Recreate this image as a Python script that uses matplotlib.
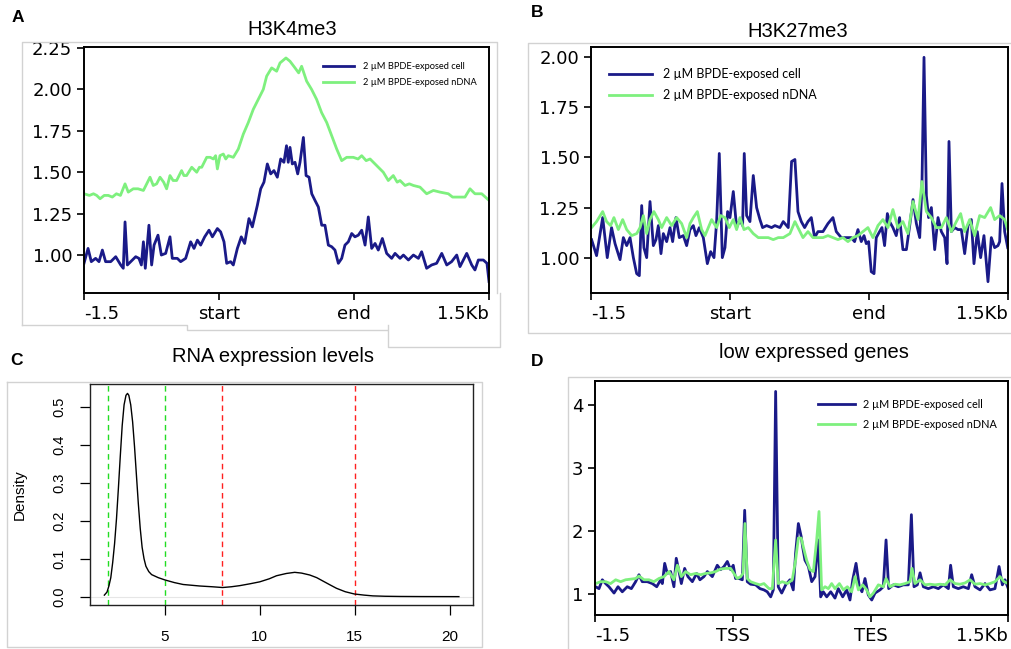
import matplotlib
matplotlib.use("Agg")
import matplotlib.pyplot as plt
from matplotlib.lines import Line2D

W, H = 1012, 649

# ---------------- data ----------------
profile_ticks = [0, 1, 2, 3]
ab_ticklabels = ["-1.5", "start", "end", "1.5Kb"]
d_ticklabels = ["-1.5", "TSS", "TES", "1.5Kb"]
series_labels = ["2 \u00b5M BPDE-exposed cell", "2 \u00b5M BPDE-exposed nDNA"]

# Panel A: H3K4me3
a_cell_x = [0.000, 0.030, 0.054, 0.086, 0.111, 0.136, 0.160, 0.198, 0.235, 0.272, 0.291, 0.304, 0.321, 0.346,
            0.383, 0.407, 0.425, 0.440, 0.454, 0.481, 0.501, 0.519, 0.548, 0.573, 0.605, 0.637, 0.654, 0.691,
            0.716, 0.753, 0.790, 0.815, 0.840, 0.864, 0.894, 0.926, 0.951, 0.988, 1.012, 1.037, 1.057, 1.086,
            1.106, 1.136, 1.165, 1.190, 1.222, 1.247, 1.284, 1.309, 1.333, 1.358, 1.383, 1.407, 1.432, 1.457,
            1.481, 1.500, 1.513, 1.526, 1.543, 1.563, 1.583, 1.600, 1.625, 1.645, 1.667, 1.687, 1.711, 1.736,
            1.761, 1.785, 1.810, 1.835, 1.859, 1.884, 1.909, 1.933, 1.958, 1.983, 2.007, 2.032, 2.057, 2.082,
            2.106, 2.131, 2.156, 2.180, 2.210, 2.242, 2.279, 2.304, 2.341, 2.366, 2.403, 2.440, 2.477, 2.501,
            2.538, 2.575, 2.612, 2.650, 2.687, 2.723, 2.761, 2.785, 2.835, 2.872, 2.896, 2.921, 2.958, 2.985,
            3.000]
a_cell_y = [0.95, 1.04, 0.96, 0.98, 0.96, 1.03, 0.96, 0.96, 0.99, 0.94, 0.92, 1.20, 0.94, 0.96,
            0.99, 0.98, 0.94, 1.08, 0.92, 1.18, 0.94, 1.06, 1.12, 1.00, 1.01, 1.11, 0.98, 0.98,
            0.96, 0.98, 1.08, 1.04, 1.09, 1.06, 1.11, 1.15, 1.11, 1.16, 1.14, 1.08, 0.95, 0.96,
            0.94, 1.04, 1.11, 1.07, 1.22, 1.17, 1.30, 1.40, 1.44, 1.55, 1.49, 1.51, 1.47, 1.58,
            1.56, 1.66, 1.56, 1.65, 1.55, 1.56, 1.49, 1.56, 1.71, 1.48, 1.47, 1.37, 1.33, 1.29,
            1.18, 1.18, 1.06, 1.05, 1.03, 0.95, 0.98, 1.06, 1.08, 1.13, 1.11, 1.12, 1.15, 1.06,
            1.23, 1.04, 1.07, 1.03, 1.10, 1.01, 0.98, 1.01, 0.98, 1.00, 0.97, 1.00, 0.98, 1.02,
            0.92, 0.94, 0.95, 1.01, 0.94, 0.96, 1.00, 0.93, 1.01, 0.94, 0.91, 0.97, 0.97, 0.95,
            0.84]
a_ndna_x = [0.000, 0.040, 0.070, 0.094, 0.119, 0.150, 0.180, 0.210, 0.240, 0.270, 0.304, 0.328, 0.365, 0.400,
            0.440, 0.489, 0.513, 0.538, 0.563, 0.590, 0.612, 0.637, 0.660, 0.686, 0.723, 0.740, 0.760, 0.798,
            0.835, 0.855, 0.872, 0.909, 0.935, 0.958, 0.975, 0.988, 1.007, 1.032, 1.050, 1.069, 1.106, 1.143,
            1.180, 1.217, 1.254, 1.291, 1.328, 1.353, 1.390, 1.427, 1.452, 1.496, 1.526, 1.563, 1.590, 1.612,
            1.649, 1.686, 1.723, 1.760, 1.798, 1.835, 1.872, 1.909, 1.946, 1.995, 2.030, 2.057, 2.090, 2.119,
            2.168, 2.217, 2.254, 2.291, 2.320, 2.341, 2.378, 2.410, 2.440, 2.489, 2.538, 2.588, 2.637, 2.699,
            2.730, 2.760, 2.822, 2.859, 2.896, 2.946, 3.000]
a_ndna_y = [1.37, 1.36, 1.37, 1.36, 1.34, 1.36, 1.36, 1.35, 1.37, 1.36, 1.43, 1.38, 1.40, 1.40,
            1.39, 1.47, 1.42, 1.43, 1.47, 1.44, 1.40, 1.48, 1.45, 1.45, 1.51, 1.48, 1.48, 1.53,
            1.50, 1.53, 1.53, 1.59, 1.59, 1.58, 1.60, 1.52, 1.60, 1.61, 1.58, 1.60, 1.59, 1.64,
            1.73, 1.80, 1.88, 1.94, 2.00, 2.08, 2.13, 2.11, 2.16, 2.19, 2.17, 2.13, 2.10, 2.14,
            2.05, 2.00, 1.94, 1.86, 1.80, 1.72, 1.64, 1.57, 1.59, 1.59, 1.58, 1.60, 1.57, 1.58,
            1.54, 1.50, 1.45, 1.48, 1.44, 1.45, 1.42, 1.43, 1.42, 1.41, 1.37, 1.39, 1.38, 1.37,
            1.35, 1.35, 1.35, 1.40, 1.37, 1.37, 1.33]

# Panel B: H3K27me3
b_cell_x = [0.002, 0.038, 0.082, 0.115, 0.146, 0.171, 0.207, 0.231, 0.255, 0.279, 0.303, 0.327, 0.346, 0.363,
            0.379, 0.399, 0.423, 0.447, 0.466, 0.483, 0.502, 0.519, 0.543, 0.567, 0.586, 0.610, 0.634, 0.663,
            0.687, 0.711, 0.735, 0.754, 0.778, 0.807, 0.836, 0.860, 0.884, 0.903, 0.922, 0.944, 0.963, 0.982,
            0.999, 1.023, 1.047, 1.071, 1.090, 1.102, 1.119, 1.143, 1.167, 1.191, 1.215, 1.234, 1.263, 1.299,
            1.323, 1.359, 1.383, 1.419, 1.443, 1.467, 1.489, 1.513, 1.537, 1.561, 1.585, 1.609, 1.633, 1.669,
            1.705, 1.741, 1.765, 1.801, 1.837, 1.873, 1.897, 1.921, 1.945, 1.965, 1.981, 1.998, 2.017, 2.037,
            2.053, 2.077, 2.094, 2.113, 2.133, 2.149, 2.173, 2.197, 2.221, 2.245, 2.270, 2.294, 2.318, 2.342,
            2.366, 2.382, 2.397, 2.414, 2.430, 2.450, 2.474, 2.498, 2.522, 2.546, 2.563, 2.577, 2.594, 2.618,
            2.642, 2.666, 2.690, 2.714, 2.738, 2.757, 2.781, 2.805, 2.829, 2.858, 2.882, 2.906, 2.930, 2.942,
            2.959, 2.978, 3.000]
b_cell_y = [1.09, 1.01, 1.20, 1.00, 1.15, 1.07, 0.99, 1.10, 1.06, 1.10, 1.00, 0.92, 0.91, 1.26,
            1.05, 1.00, 1.28, 1.06, 1.09, 1.16, 1.02, 1.12, 1.08, 1.15, 1.08, 1.20, 1.10, 1.11,
            1.06, 1.14, 1.16, 1.11, 1.15, 1.10, 0.97, 1.03, 1.00, 1.18, 1.52, 1.00, 1.05, 1.23,
            1.20, 1.33, 1.15, 1.19, 1.16, 1.52, 1.21, 1.18, 1.41, 1.25, 1.19, 1.15, 1.16, 1.15,
            1.16, 1.15, 1.18, 1.15, 1.48, 1.49, 1.23, 1.18, 1.15, 1.18, 1.20, 1.10, 1.13, 1.13,
            1.17, 1.20, 1.13, 1.10, 1.10, 1.10, 1.08, 1.14, 1.08, 1.11, 1.07, 1.08, 0.93, 0.92,
            1.10, 1.13, 1.15, 1.06, 1.22, 1.18, 1.15, 1.11, 1.20, 1.04, 1.04, 1.16, 1.29, 1.17,
            1.10, 1.35, 2.00, 1.31, 1.20, 1.25, 1.04, 1.20, 1.13, 1.10, 0.97, 1.58, 1.13, 1.15,
            1.14, 1.14, 1.02, 1.16, 1.19, 0.97, 1.13, 1.00, 1.11, 0.88, 1.10, 1.05, 1.06, 1.08,
            1.37, 1.13, 1.05]
b_ndna_x = [0.002, 0.038, 0.082, 0.110, 0.139, 0.163, 0.195, 0.226, 0.255, 0.291, 0.327, 0.351, 0.375, 0.399,
            0.423, 0.451, 0.483, 0.507, 0.543, 0.579, 0.615, 0.651, 0.687, 0.711, 0.735, 0.764, 0.795, 0.819,
            0.843, 0.867, 0.903, 0.932, 0.963, 0.994, 1.023, 1.047, 1.071, 1.100, 1.131, 1.167, 1.203, 1.239,
            1.275, 1.311, 1.347, 1.383, 1.431, 1.467, 1.489, 1.525, 1.561, 1.597, 1.633, 1.669, 1.705, 1.741,
            1.777, 1.813, 1.849, 1.885, 1.921, 1.957, 1.993, 2.029, 2.065, 2.101, 2.137, 2.173, 2.209, 2.245,
            2.281, 2.318, 2.354, 2.382, 2.414, 2.450, 2.486, 2.522, 2.558, 2.594, 2.630, 2.661, 2.690, 2.726,
            2.762, 2.798, 2.834, 2.877, 2.906, 2.942, 2.978, 3.000]
b_ndna_y = [1.15, 1.18, 1.23, 1.18, 1.16, 1.20, 1.14, 1.19, 1.14, 1.11, 1.12, 1.15, 1.21, 1.12,
            1.19, 1.23, 1.19, 1.15, 1.20, 1.16, 1.20, 1.17, 1.10, 1.17, 1.20, 1.23, 1.14, 1.11,
            1.15, 1.19, 1.15, 1.21, 1.20, 1.15, 1.19, 1.14, 1.20, 1.14, 1.15, 1.12, 1.10, 1.10,
            1.10, 1.09, 1.10, 1.10, 1.12, 1.18, 1.15, 1.10, 1.13, 1.10, 1.10, 1.10, 1.11, 1.10,
            1.09, 1.10, 1.08, 1.10, 1.11, 1.13, 1.15, 1.10, 1.16, 1.19, 1.15, 1.24, 1.15, 1.18,
            1.12, 1.28, 1.19, 1.38, 1.23, 1.20, 1.15, 1.15, 1.20, 1.13, 1.18, 1.22, 1.13, 1.19,
            1.11, 1.21, 1.20, 1.25, 1.19, 1.21, 1.19, 1.14]

# Panel C: RNA expression density
c_expr = [1.81, 1.95, 2.05, 2.15, 2.25, 2.35, 2.45, 2.55, 2.65, 2.75, 2.85, 2.95, 3.03, 3.10, 3.20, 3.30,
          3.40, 3.50, 3.60, 3.70, 3.80, 3.90, 4.00, 4.15, 4.30, 4.65, 5.00, 5.50, 5.96, 6.84, 7.50, 8.04,
          8.50, 8.95, 9.50, 10.00, 10.50, 10.88, 11.40, 11.84, 12.20, 12.63, 13.00, 13.33, 13.70, 14.04,
          14.50, 14.98, 15.50, 15.96, 16.60, 17.37, 18.50, 20.49]
c_density = [0.004, 0.012, 0.028, 0.050, 0.090, 0.140, 0.205, 0.285, 0.370, 0.450, 0.505, 0.530, 0.535, 0.530,
             0.505, 0.460, 0.395, 0.320, 0.245, 0.180, 0.130, 0.100, 0.080, 0.066, 0.058, 0.050, 0.044, 0.037,
             0.032, 0.028, 0.026, 0.024, 0.026, 0.029, 0.034, 0.039, 0.047, 0.055, 0.061, 0.064, 0.062, 0.057,
             0.050, 0.041, 0.031, 0.022, 0.013, 0.007, 0.004, 0.002, 0.001, 0.0005, 0.0002, 0.0]
c_green_cuts = [2, 5]
c_red_cuts = [8, 15]
c_xticks = [5, 10, 15, 20]
c_yticks = [0.0, 0.1, 0.2, 0.3, 0.4, 0.5]

# Panel D: low expressed genes
d_cell_x = [0.002, 0.027, 0.051, 0.075, 0.099, 0.136, 0.165, 0.196, 0.232, 0.262, 0.293, 0.317, 0.341, 0.378,
            0.414, 0.446, 0.475, 0.487, 0.504, 0.523, 0.547, 0.571, 0.588, 0.608, 0.625, 0.649, 0.673, 0.705,
            0.736, 0.760, 0.789, 0.814, 0.850, 0.886, 0.910, 0.935, 0.959, 0.983, 1.002, 1.019, 1.044, 1.068,
            1.085, 1.104, 1.128, 1.165, 1.196, 1.225, 1.249, 1.274, 1.293, 1.310, 1.329, 1.354, 1.383, 1.414,
            1.438, 1.455, 1.475, 1.496, 1.506, 1.523, 1.548, 1.572, 1.596, 1.620, 1.637, 1.656, 1.681, 1.710,
            1.741, 1.765, 1.797, 1.826, 1.850, 1.870, 1.894, 1.918, 1.937, 1.959, 1.983, 2.008, 2.032, 2.068,
            2.092, 2.112, 2.131, 2.165, 2.201, 2.238, 2.274, 2.296, 2.315, 2.339, 2.359, 2.383, 2.419, 2.456,
            2.492, 2.528, 2.565, 2.581, 2.601, 2.637, 2.673, 2.710, 2.734, 2.758, 2.795, 2.831, 2.867, 2.903,
            2.933, 2.957, 2.976, 3.000]
d_cell_y = [1.12, 1.09, 1.23, 1.17, 1.12, 1.02, 1.12, 1.04, 1.12, 1.09, 1.20, 1.31, 1.20, 1.20,
            1.17, 1.12, 1.23, 1.17, 1.49, 1.33, 1.36, 1.12, 1.57, 1.36, 1.17, 1.41, 1.28, 1.20,
            1.33, 1.23, 1.28, 1.36, 1.28, 1.46, 1.39, 1.44, 1.52, 1.39, 1.46, 1.25, 1.25, 1.23,
            2.33, 1.20, 1.16, 1.15, 1.09, 1.07, 1.04, 0.96, 1.07, 4.21, 1.12, 1.02, 1.15, 1.23,
            1.07, 1.65, 2.12, 1.91, 1.75, 1.54, 1.44, 1.20, 1.28, 1.86, 0.96, 1.04, 0.96, 1.04,
            0.94, 1.09, 0.96, 1.07, 0.91, 1.23, 1.49, 1.12, 1.04, 1.25, 0.99, 0.91, 1.02, 1.07,
            1.12, 1.86, 1.09, 1.15, 1.12, 1.15, 1.15, 2.26, 1.12, 1.15, 1.34, 1.12, 1.09, 1.12,
            1.09, 1.15, 1.09, 1.46, 1.12, 1.09, 1.12, 1.09, 1.31, 1.12, 1.07, 1.17, 1.07, 1.09,
            1.44, 1.15, 1.23, 1.09]
d_ndna_x = [0.002, 0.039, 0.075, 0.111, 0.148, 0.184, 0.220, 0.257, 0.293, 0.317, 0.354, 0.390, 0.426, 0.462,
            0.499, 0.535, 0.571, 0.596, 0.625, 0.656, 0.692, 0.729, 0.765, 0.801, 0.838, 0.874, 0.910, 0.947,
            0.983, 1.007, 1.031, 1.056, 1.073, 1.087, 1.104, 1.128, 1.165, 1.196, 1.225, 1.262, 1.286, 1.310,
            1.329, 1.358, 1.395, 1.431, 1.455, 1.475, 1.496, 1.511, 1.535, 1.560, 1.584, 1.608, 1.625, 1.644,
            1.669, 1.693, 1.717, 1.741, 1.773, 1.802, 1.831, 1.862, 1.887, 1.911, 1.942, 1.971, 1.995, 2.020,
            2.056, 2.092, 2.112, 2.141, 2.177, 2.213, 2.250, 2.286, 2.301, 2.322, 2.359, 2.395, 2.431, 2.468,
            2.504, 2.541, 2.577, 2.613, 2.649, 2.686, 2.722, 2.758, 2.795, 2.831, 2.867, 2.903, 2.940, 2.969,
            3.000]
d_ndna_y = [1.17, 1.20, 1.20, 1.17, 1.23, 1.20, 1.23, 1.24, 1.25, 1.29, 1.23, 1.23, 1.20, 1.25,
            1.28, 1.36, 1.23, 1.46, 1.28, 1.36, 1.31, 1.33, 1.31, 1.33, 1.34, 1.36, 1.40, 1.41,
            1.41, 1.33, 1.25, 1.28, 1.33, 2.12, 1.25, 1.20, 1.17, 1.15, 1.17, 1.09, 1.09, 1.86,
            1.17, 1.20, 1.17, 1.23, 1.54, 1.89, 1.89, 1.75, 1.54, 1.39, 1.36, 1.86, 2.31, 1.07,
            1.12, 1.09, 1.17, 1.09, 1.17, 1.07, 1.12, 1.04, 1.28, 1.07, 1.15, 1.07, 0.96, 1.02,
            1.15, 1.12, 1.25, 1.12, 1.16, 1.15, 1.17, 1.20, 1.41, 1.17, 1.23, 1.15, 1.16, 1.15,
            1.16, 1.15, 1.23, 1.17, 1.16, 1.18, 1.23, 1.16, 1.17, 1.15, 1.17, 1.20, 1.28, 1.20,
            1.17]

# ---------------- style ----------------
CELL = "#1a1a88"
NDNA = "#7ef07e"
FRAME = "#d2d2d2"
TICKFONT = 13

fig = plt.figure(figsize=(W / 100, H / 100), dpi=100)


def rect(l, t, r, b):
    return [l / W, 1 - b / H, (r - l) / W, (b - t) / H]


def fline(xs, ys):
    fig.add_artist(Line2D([x / W for x in xs], [1 - y / H for y in ys], transform=fig.transFigure,
                          color=FRAME, lw=1.0))


# light frames from the composite
fline([22.3, 22.3, 496.7, 496.7], [325, 41.7, 41.7, 293.3])
fline([22.3, 186.7, 186.7, 386.7], [325, 325, 330, 330])
fline([387.7, 387.7, 500, 500], [325, 347.3, 347.3, 293.3])
fline([1012, 528.3, 528.3, 1012], [42.7, 42.7, 333.3, 333.3])
fline([7.3, 481.7, 481.7, 7.3, 7.3], [381.7, 381.7, 646.7, 646.7, 381.7])
fline([1012, 567.7, 567.7], [377.3, 377.3, 649])


def profile_axes(pos, ylim, yticks, yfmt, xlabels):
    ax = fig.add_axes(pos)
    ax.set_xlim(0, 3)
    ax.set_ylim(*ylim)
    ax.set_xticks(profile_ticks)
    ax.set_xticklabels(xlabels, fontsize=TICKFONT)
    labs = ax.get_xticklabels()
    labs[0].set_ha("left")
    labs[-1].set_ha("right")
    ax.set_yticks(yticks)
    ax.set_yticklabels([yfmt.format(v) for v in yticks], fontsize=TICKFONT)
    ax.tick_params(direction="out", length=5, width=1.2, pad=3.5)
    for s in ax.spines.values():
        s.set_linewidth(1.4)
    return ax


def add_legend(ax, anchor, fs, labelspacing, handlelength, textpad):
    leg = ax.legend(loc="upper left", bbox_to_anchor=anchor, frameon=False, borderaxespad=0, borderpad=0,
                    handlelength=handlelength, handletextpad=textpad, labelspacing=labelspacing,
                    prop={"family": ["Lato", "DejaVu Sans"], "size": fs})
    return leg


# Panel A
axA = profile_axes(rect(84, 46.7, 489, 293.3), (0.769, 2.258), [1.00, 1.25, 1.50, 1.75, 2.00, 2.25], "{:.2f}",
                   ab_ticklabels)
axA.plot(a_cell_x, a_cell_y, color=CELL, lw=2.0, label=series_labels[0])
axA.plot(a_ndna_x, a_ndna_y, color=NDNA, lw=2.0, label=series_labels[1])
add_legend(axA, (0.590, 0.938), 6.7, 0.76, 3.3, 1.0)

# Panel B
axB = profile_axes(rect(591.3, 46.7, 1007.7, 293.3), (0.822, 2.053), [1.00, 1.25, 1.50, 1.75, 2.00], "{:.2f}",
                   ab_ticklabels)
axB.plot(b_cell_x, b_cell_y, color=CELL, lw=2.0, label=series_labels[0])
axB.plot(b_ndna_x, b_ndna_y, color=NDNA, lw=2.0, label=series_labels[1])
add_legend(axB, (0.043, 0.914), 9.0, 0.75, 3.4, 0.9)

# Panel D
axD = profile_axes(rect(595.3, 380.7, 1008.3, 615.3), (0.668, 4.38), [1, 2, 3, 4], "{:d}", d_ticklabels)
axD.plot(d_cell_x, d_cell_y, color=CELL, lw=2.0, label=series_labels[0])
axD.plot(d_ndna_x, d_ndna_y, color=NDNA, lw=2.0, label=series_labels[1])
add_legend(axD, (0.539, 0.924), 7.8, 0.9, 3.4, 0.75)

# Panel C (R-style density)
RF = ["Liberation Sans", "DejaVu Sans"]
axC = fig.add_axes(rect(90.3, 384.3, 473.3, 605))
axC.set_xlim(1.07, 21.25)
axC.set_ylim(-0.022, 0.559)
axC.axhline(0, color="#e6e6e6", lw=0.8, zorder=1)
axC.plot(c_expr, c_density, color="black", lw=1.0, zorder=3)
for v in c_green_cuts:
    axC.axvline(v, color="#22dd22", lw=1.0, ls=(0, (4, 3)), zorder=2)
for v in c_red_cuts:
    axC.axvline(v, color="#ff2020", lw=1.0, ls=(0, (4, 3)), zorder=2)
axC.set_xticks(c_xticks)
axC.set_xticklabels([str(v) for v in c_xticks], fontsize=11, family=RF)
axC.set_yticks(c_yticks)
axC.set_yticklabels(["{:.1f}".format(v) for v in c_yticks], fontsize=10.5, family=RF, rotation=90, va="center")
axC.tick_params(direction="out", length=7, width=0.9)
axC.tick_params(axis="x", pad=11)
axC.tick_params(axis="y", pad=10)
axC.set_ylabel("Density", fontsize=11, family=RF, labelpad=19)
for s in axC.spines.values():
    s.set_linewidth(1.0)
    s.set_color("#222222")

# titles and panel letters
TF = ["Liberation Sans", "DejaVu Sans"]
fig.text(292 / W, 1 - 35 / H, "H3K4me3", ha="center", va="baseline", fontsize=14.5, family=TF)
fig.text(797.7 / W, 1 - 36.7 / H, "H3K27me3", ha="center", va="baseline", fontsize=14.5, family=TF)
fig.text(272.8 / W, 1 - 361.7 / H, "RNA expression levels", ha="center", va="baseline", fontsize=14.5, family=TF)
fig.text(814 / W, 1 - 358.3 / H, "low expressed genes", ha="center", va="baseline", fontsize=14.5, family=TF)
for letter, x, y in [("A", 11.7, 22.3), ("B", 531, 16.7), ("C", 10.7, 365), ("D", 531, 365.7)]:
    fig.text(x / W, 1 - y / H, letter, ha="left", va="baseline", fontsize=12.5, fontweight="bold", family=TF)

fig.savefig("out.png", dpi=100)
